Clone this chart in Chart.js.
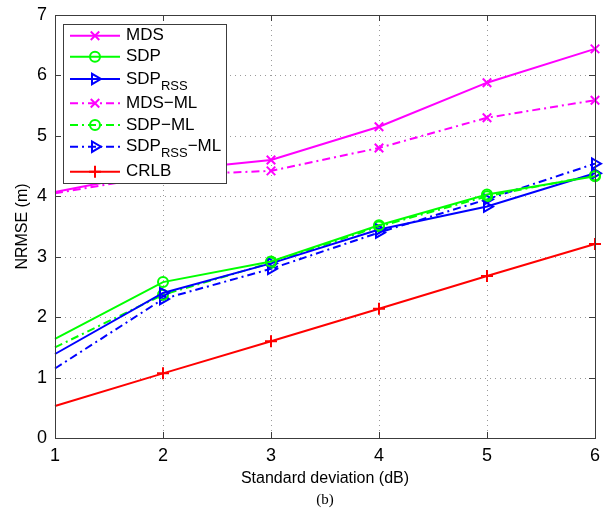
<!DOCTYPE html>
<html>
<head>
<meta charset="utf-8">
<script src="https://cdn.jsdelivr.net/npm/chart.js@4.4.1/dist/chart.umd.min.js"></script>
<style>
  html, body { margin: 0; padding: 0; background: #fff; }
  canvas { display: block; }
</style>
</head>
<body>
<canvas id="c" width="611" height="512"></canvas>
<script>
// Standard deviation of the shadowing noise (dB)
const stdDev = [1, 2, 3, 4, 5, 6];

// NRMSE (m) for each estimator
const mds      = [4.07, 4.42, 4.60, 5.15, 5.88, 6.44];
const sdp      = [1.64, 2.58, 2.92, 3.52, 4.03, 4.33];
const sdpRss   = [1.39, 2.40, 2.89, 3.45, 3.83, 4.38];
const mdsMl    = [4.05, 4.35, 4.42, 4.80, 5.30, 5.59];
const sdpMl    = [1.50, 2.37, 2.90, 3.50, 4.00, 4.35];
const sdpRssMl = [1.15, 2.30, 2.80, 3.40, 3.95, 4.54];
const crlb     = [0.53, 1.07, 1.60, 2.14, 2.68, 3.21];

const seriesLabels = ['MDS', 'SDP', 'SDP_{RSS}', 'MDS\u2212ML', 'SDP\u2212ML', 'SDP_{RSS}\u2212ML', 'CRLB'];
const xTicks = [1, 2, 3, 4, 5, 6];
const yTicks = [0, 1, 2, 3, 4, 5, 6, 7];

const MAGENTA = '#ff00ff', GREEN = '#00ff00', BLUE = '#0000ff', RED = '#ff0000';
const DASHDOT = [8, 4, 2, 4];
const FONT = '"Liberation Sans", Arial, Helvetica, sans-serif';

const toPoints = ys => ys.map((y, i) => ({ x: stdDev[i], y }));

function series(label, values, color, style, dashed, rotation) {
  const r = style === 'circle' ? 5 : 6;
  return {
    label,
    data: toPoints(values),
    borderColor: color,
    backgroundColor: 'transparent',
    borderWidth: 2,
    borderDash: dashed ? DASHDOT : [],
    pointStyle: style,
    rotation: rotation || 0,
    markerSize: r,
    // no marker on the left axis edge
    pointRadius: values.map((v, i) => (i === 0 ? 0 : r)),
    pointBorderWidth: 2,
    pointBorderColor: color,
    pointBackgroundColor: 'transparent',
    pointHoverRadius: 0,
    tension: 0,
    clip: false
  };
}

const datasets = [
  series(seriesLabels[0], mds, MAGENTA, 'crossRot', false),
  series(seriesLabels[1], sdp, GREEN, 'circle', false),
  series(seriesLabels[2], sdpRss, BLUE, 'triangle', false, 90),
  series(seriesLabels[3], mdsMl, MAGENTA, 'crossRot', true),
  series(seriesLabels[4], sdpMl, GREEN, 'circle', true),
  series(seriesLabels[5], sdpRssMl, BLUE, 'triangle', true, 90),
  series(seriesLabels[6], crlb, RED, 'cross', false)
];

// Draw text with "_{...}" parts as subscripts; returns the end x
function drawRichText(ctx, text, x, y, size) {
  const parts = text.split(/(_\{[^}]*\})/).filter(Boolean);
  ctx.textAlign = 'left';
  ctx.textBaseline = 'middle';
  for (const p of parts) {
    if (p.startsWith('_{')) {
      const s = p.slice(2, -1);
      ctx.font = Math.round(size * 0.78) + 'px ' + FONT;
      ctx.fillText(s, x, y + size * 0.42);
      x += ctx.measureText(s).width;
    } else {
      ctx.font = size + 'px ' + FONT;
      ctx.fillText(p, x, y);
      x += ctx.measureText(p).width;
    }
  }
  return x;
}

const axesDecor = {
  id: 'axesDecor',
  beforeDatasetsDraw(chart) {
    const { ctx, chartArea: a, scales: { x, y } } = chart;
    ctx.save();
    ctx.strokeStyle = '#9a9a9a';
    ctx.lineWidth = 1;
    ctx.setLineDash([1, 4]);
    for (const t of x.ticks) {
      const px = Math.round(x.getPixelForValue(t.value)) + 0.5;
      if (px <= a.left + 1 || px >= a.right - 1) continue;
      ctx.beginPath(); ctx.moveTo(px, a.top); ctx.lineTo(px, a.bottom); ctx.stroke();
    }
    for (const t of y.ticks) {
      const py = Math.round(y.getPixelForValue(t.value)) + 0.5;
      if (py <= a.top + 1 || py >= a.bottom - 1) continue;
      ctx.beginPath(); ctx.moveTo(a.left, py); ctx.lineTo(a.right, py); ctx.stroke();
    }
    ctx.restore();
  },
  afterDatasetsDraw(chart) {
    const { ctx, chartArea: a, scales: { x, y } } = chart;
    ctx.save();
    // axes box
    ctx.strokeStyle = '#3c3c3c';
    ctx.lineWidth = 1;
    ctx.setLineDash([]);
    ctx.strokeRect(Math.round(a.left) + 0.5, Math.round(a.top) + 0.5,
                   Math.round(a.right - a.left), Math.round(a.bottom - a.top));
    // inward tick marks on all four sides
    const L = 6;
    ctx.beginPath();
    for (const t of x.ticks) {
      const px = Math.round(x.getPixelForValue(t.value)) + 0.5;
      ctx.moveTo(px, a.bottom); ctx.lineTo(px, a.bottom - L);
      ctx.moveTo(px, a.top); ctx.lineTo(px, a.top + L);
    }
    for (const t of y.ticks) {
      const py = Math.round(y.getPixelForValue(t.value)) + 0.5;
      ctx.moveTo(a.left, py); ctx.lineTo(a.left + L, py);
      ctx.moveTo(a.right, py); ctx.lineTo(a.right - L, py);
    }
    ctx.stroke();

    // legend box inside the axes
    const bx = a.left + 8, by = a.top + 9, bw = 163, bh = 159;
    ctx.fillStyle = '#fff';
    ctx.fillRect(bx, by, bw, bh);
    ctx.strokeStyle = '#3c3c3c';
    ctx.strokeRect(Math.round(bx) + 0.5, Math.round(by) + 0.5, bw, bh);
    const rowOffset = [20.7, 41.7, 64, 88.3, 110, 131.7, 156.7];
    chart.data.datasets.forEach((ds, i) => {
      const ry = a.top + rowOffset[i];
      ctx.strokeStyle = ds.borderColor;
      ctx.lineWidth = 2;
      ctx.setLineDash(ds.borderDash);
      ctx.beginPath(); ctx.moveTo(bx + 7, ry); ctx.lineTo(bx + 57, ry); ctx.stroke();
      ctx.setLineDash([]);
      ctx.fillStyle = 'transparent';
      Chart.helpers.drawPoint(ctx, {
        pointStyle: ds.pointStyle, rotation: ds.rotation,
        radius: ds.markerSize, borderWidth: 2
      }, bx + 32, ry);
      ctx.fillStyle = '#000';
      drawRichText(ctx, ds.label, bx + 63, ry, 17);
    });
    ctx.restore();
  },
  afterDraw(chart) {
    const { ctx, chartArea: a } = chart;
    ctx.save();
    ctx.fillStyle = '#000';
    ctx.font = '15px "Liberation Serif", "Times New Roman", serif';
    ctx.textAlign = 'center';
    ctx.textBaseline = 'middle';
    ctx.fillText('(b)', (a.left + a.right) / 2, 500);
    ctx.restore();
  }
};

new Chart(document.getElementById('c'), {
  type: 'line',
  data: { datasets },
  plugins: [axesDecor],
  options: {
    responsive: false,
    animation: false,
    devicePixelRatio: 1,
    layout: { padding: { left: 0, right: 16, top: 15, bottom: 0 } },
    plugins: { legend: { display: false }, tooltip: { enabled: false } },
    scales: {
      x: {
        type: 'linear',
        min: 1, max: 6,
        afterBuildTicks: s => { s.ticks = xTicks.map(v => ({ value: v })); },
        afterFit: s => { s.height = 74; s.paddingLeft = 0; s.paddingRight = 0; },
        grid: { display: false, drawTicks: false },
        border: { display: false },
        ticks: { color: '#000', font: { size: 18, family: FONT }, padding: 7, maxRotation: 0 },
        title: {
          display: true, text: 'Standard deviation (dB)', color: '#000',
          font: { size: 16, family: FONT }, padding: { top: 0, bottom: 24 }
        }
      },
      y: {
        type: 'linear',
        min: 0, max: 7,
        afterBuildTicks: s => { s.ticks = yTicks.map(v => ({ value: v })); },
        afterFit: s => { s.width = 55; s.paddingTop = 0; s.paddingBottom = 0; },
        grid: { display: false, drawTicks: false },
        border: { display: false },
        ticks: { color: '#000', font: { size: 18, family: FONT }, padding: 8 },
        title: {
          display: true, text: 'NRMSE (m)', color: '#000',
          font: { size: 16, family: FONT }, padding: { top: 13, bottom: 0 }
        }
      }
    }
  }
});
</script>
</body>
</html>
